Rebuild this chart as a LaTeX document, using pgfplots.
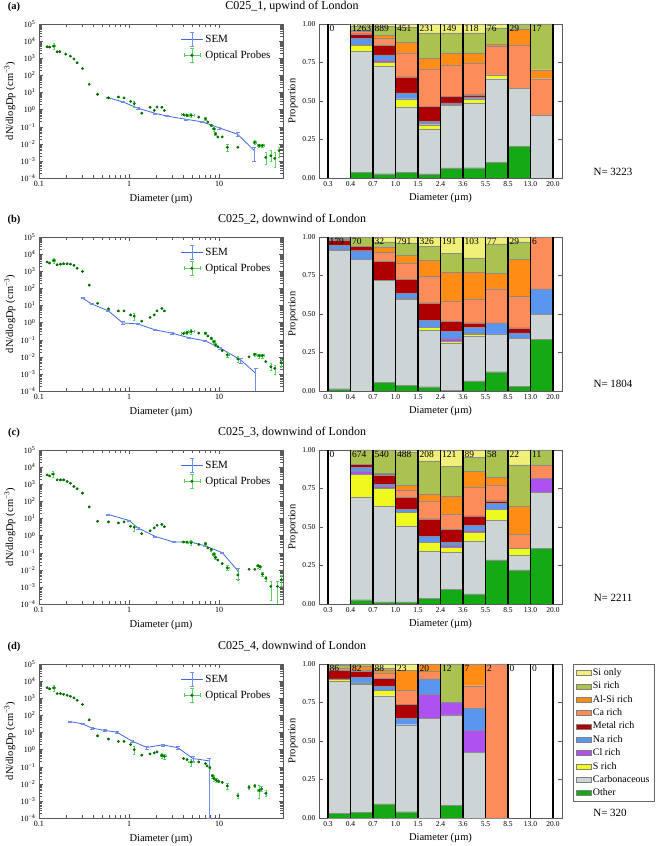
\documentclass[border=0pt]{standalone}
\usepackage{fontspec}
\setmainfont{Liberation Serif}
\usepackage{pgfplots}
\usepackage{pgfplotstable}
\pgfplotsset{compat=1.18}

\definecolor{cSiOnly}{RGB}{240,240,120}
\definecolor{cSiRich}{RGB}{170,195,80}
\definecolor{cAlSi}{RGB}{255,140,20}
\definecolor{cCa}{RGB}{252,140,90}
\definecolor{cMetal}{RGB}{175,0,0}
\definecolor{cNa}{RGB}{90,150,240}
\definecolor{cCl}{RGB}{175,80,240}
\definecolor{cS}{RGB}{238,250,30}
\definecolor{cCarb}{RGB}{205,212,214}
\definecolor{cOther}{RGB}{20,170,20}
\definecolor{semblue}{RGB}{65,105,225}
\definecolor{optdark}{RGB}{0,105,0}
\definecolor{optlight}{RGB}{90,215,90}
\definecolor{framegray}{RGB}{90,90,90}

\newcommand{\semlegend}{\draw[semblue,line width=0.8pt] (0pt,0pt)--(22pt,0pt);
  \draw[semblue!75,line width=0.6pt] (11pt,-7pt)--(11pt,7pt) (9pt,-7pt)--(13pt,-7pt) (9pt,7pt)--(13pt,7pt);}
\newcommand{\optlegend}{\draw[optlight,line width=0.6pt] (3pt,0pt)--(19pt,0pt) (11pt,-7pt)--(11pt,7pt) (9pt,-7pt)--(13pt,-7pt) (9pt,7pt)--(13pt,7pt) (3pt,-2pt)--(3pt,2pt) (19pt,-2pt)--(19pt,2pt);
  \fill[optdark] (11pt,0pt) circle (1.3pt);}
\newcommand{\barlegend}[1]{\draw[#1,draw=black!50] (0pt,-2.5pt) rectangle (15pt,2.5pt);}

\newcommand{\stackbars}[1]{%
\addplot[fill=cOther] table[x=x,y=other]{#1};
\addplot[fill=cCarb] table[x=x,y=carb]{#1};
\addplot[fill=cS] table[x=x,y=s]{#1};
\addplot[fill=cCl] table[x=x,y=cl]{#1};
\addplot[fill=cNa] table[x=x,y=na]{#1};
\addplot[fill=cMetal] table[x=x,y=metal]{#1};
\addplot[fill=cCa] table[x=x,y=ca]{#1};
\addplot[fill=cAlSi] table[x=x,y=alsi]{#1};
\addplot[fill=cSiRich] table[x=x,y=sir]{#1};
\addplot[fill=cSiOnly] table[x=x,y=sio]{#1};
}
\newcommand{\binlines}{\addplot[ycomb, black, line width=1.3pt, mark=none] coordinates {(0,1) (1,1) (2,1) (3,1) (4,1) (5,1) (6,1) (7,1) (8,1) (9,1) (10,1)};}
\newcommand{\cnt}[2]{\node[anchor=north west, inner sep=0.5pt, font=\fontsize{9.5}{10}\selectfont] at (axis cs:#1.04,0.995) {#2};}
\newcommand{\counts}[9]{\cnt{0}{#1}\cnt{1}{#2}\cnt{2}{#3}\cnt{3}{#4}\cnt{4}{#5}\cnt{5}{#6}\cnt{6}{#7}\cnt{7}{#8}\cnt{8}{#9}}

% ---------- data: stacked proportions ----------
\pgfplotstableread{
x other carb s cl na metal ca alsi sir sio
0.5 0 0 0 0 0 0 0 0 0 0
1.5 .035 .787 .040 .005 .040 .030 .015 .008 .025 .015
2.5 .028 .697 .028 .009 .038 .061 .048 .017 .059 .015
3.5 .035 .426 .052 .002 .037 .104 .156 .071 .097 .020
4.5 .026 .292 .028 .007 .013 .099 .243 .069 .165 .058
5.5 .065 .405 .010 .002 .005 .043 .202 .080 .130 .058
6.5 .067 .420 .026 0 .013 .015 .206 .065 .130 .058
7.5 .102 .543 .024 0 0 0 .186 .015 .104 .026
8.5 .206 .378 0 0 0 0 .277 .107 .032 0
9.5 0 .407 0 0 0 0 .238 .058 .297 0
}\barA
\pgfplotstableread{
x other carb s cl na metal ca alsi sir sio
0.5 .015 .899 .006 0 .028 .030 .005 0 .010 .007
1.5 0 .853 0 0 .058 .029 0 0 .060 0
2.5 .058 .659 0 0 0 .125 .061 .030 .035 .032
3.5 .037 .557 .006 0 .033 .091 .108 .047 .082 .039
4.5 .028 .367 .020 0 .045 .112 .173 .104 .091 .060
5.5 .006 .307 .011 .019 .046 .062 .132 .190 .119 .108
6.5 .065 .291 .011 .011 .037 .028 .151 .179 .091 .136
7.5 .125 .246 0 0 .072 0 .220 .099 .193 .045
8.5 .032 .309 0 0 .037 .032 .206 .241 .111 .032
9.5 .335 .162 0 0 .166 0 .337 0 0 0
}\barB
\pgfplotstableread{
x other carb s cl na metal ca alsi sir sio
0.5 0 0 0 0 0 0 0 0 0 0
1.5 .028 .665 .151 .016 .028 .019 0 0 .093 0
2.5 .013 .620 .119 .010 .016 .060 .006 .005 .151 0
3.5 .013 .495 .088 0 .020 .077 .048 .028 .216 .015
4.5 .035 .306 .061 0 .036 .115 .117 .045 .214 .071
5.5 .097 .238 .034 .011 .022 .082 .101 .113 .198 .104
6.5 .065 .345 .057 .010 .033 .062 .186 .102 .092 .048
7.5 .287 .259 .070 0 .038 .016 .103 .050 .177 0
8.5 .222 .093 .048 0 0 0 .091 .183 .266 .097
9.5 .363 .361 0 .092 0 0 .087 0 .097 0
}\barC
\pgfplotstableread{
x other carb s cl na metal ca alsi sir sio
0.5 .032 .855 .016 0 0 .054 .015 0 .018 .010
1.5 .037 .829 .011 0 .036 .039 .005 .026 .017 0
2.5 .091 .703 .033 0 .026 .056 .030 .018 .017 .026
3.5 .041 .565 0 0 .043 .091 .091 .126 0 .043
4.5 0 .649 0 .152 .102 0 .049 .048 0 0
5.5 .084 .585 0 .082 0 0 0 0 .249 0
6.5 0 .426 0 .145 .141 0 .147 .141 0 0
7.5 0 0 0 0 0 0 1 0 0 0
8.5 0 0 0 0 0 0 0 0 0 0
9.5 0 0 0 0 0 0 0 0 0 0
}\barD

% ---------- data: size distributions ----------
\pgfplotstableread{
x y ep em
0.59 4.9 0.3 0.3
0.85 2.8 0.2 0.2
1.25 1.2 0.1 0.1
1.95 0.60 0.05 0.05
2.6 0.42 0.03 0.03
4.3 0.27 0.02 0.02
6.5 0.19 0.015 0.015
10.0 0.085 0.01 0.01
16.0 0.036 0.01 0.008
24.5 0.0040 0.0025 0.003
}\semA
\pgfplotstableread{
x y ep em
0.304 27 2 2
0.384 12.3 1 1
0.589 4.8 0.4 0.4
0.85 0.95 0.25 0.2
1.25 0.83 0.05 0.05
1.95 0.37 0.03 0.03
3.0 0.24 0.02 0.02
4.59 0.13 0.01 0.01
7.0 0.085 0.008 0.008
10.3 0.032 0.004 0.004
17.3 0.0065 0.002 0.0025
25.4 0.00107 0.0011 0.00106
}\semB
\pgfplotstableread{
x y ep em
0.589 17 1 1
1.0 7.6 0.6 0.6
1.25 2.8 0.3 0.3
1.95 0.89 0.06 0.06
3.12 0.42 0.03 0.03
4.8 0.42 0.03 0.03
7.0 0.25 0.02 0.02
10.8 0.10 0.01 0.01
16.1 0.0087 0.004 0.006
}\semC
\pgfplotstableread{
x y ep em
0.22 43 3 3
0.304 32 2 2
0.384 18 2 2
0.54 13 1.5 1.5
0.73 10.5 1 1
1.09 3.0 0.4 0.4
1.57 1.35 0.25 0.25
2.35 1.86 0.3 0.3
3.46 1.3 0.25 0.25
5.1 0.30 0.1 0.08
7.67 0.22 0.1 0.2199
}\semD

\pgfplotstableread{
x y ex ep em
0.123 4700 0 0 0
0.131 4500 0 0 0
0.146 5100 0.006 2300 1700
0.159 2400 0 0 0
0.170 2400 0 0 0
0.198 1740 0 0 0
0.223 1320 0 0 0
0.244 910 0 0 0
0.265 540 0 0 0
0.304 250 0 0 0
0.361 30 0 0 0
0.447 7.8 0 0 0
0.589 4.9 0 0 0
0.760 5.4 0 0 0
0.879 4.8 0 0 0
1.04 3.0 0 0 0
1.14 2.2 0 1.0 0.8
1.38 0.62 0 0 0
1.71 1.35 0 0 0
1.90 0.89 0 0 0
2.04 1.41 0 0 0
2.31 1.35 0 0 0
2.46 0.89 0 0 0
4.03 0.50 0.25 0 0
4.39 0.46 0.3 0.08 0.06
4.87 0.46 0.35 0.12 0.1
5.93 0.36 0 0 0
7.04 0.29 0 0.05 0.05
7.48 0.19 0 0 0
8.15 0.12 0.3 0.02 0.02
8.73 0.074 0.35 0.02 0.02
9.10 0.038 0 0.01 0.008
9.66 0.025 0 0 0
10.8 0.025 0 0 0
12.3 0.0063 0 0.003 0.0025
16.1 0.0063 0 0 0
24.8 0.012 0.8 0.004 0.003
27.7 0.0079 1 0.002 0.002
30.2 0.0079 1 0.002 0.002
32.9 0.0016 0 0.0016 0.001
37.4 0.0020 0 0.002 0.0011
41.4 0.0014 0 0.0019 0.0010
46.2 0.0040 0 0.0023 0.0024
}\optA
\pgfplotstableread{
x y ex ep em
0.123 3450 0 0 0
0.131 3000 0 0 0
0.146 4250 0.006 1800 1300
0.159 2400 0 0 0
0.173 2600 0 0 0
0.188 2750 0 0 0
0.205 2750 0 0 0
0.223 2600 0 0 0
0.244 2200 0 0 0
0.265 1500 0 0 0
0.304 970 0 0 0
0.361 155 0 0 0
0.447 13.5 0 0 0
0.589 6.3 0 0 0
0.760 4.8 0 0 0
0.879 4.8 0 0 0
1.04 2.8 0 0 0
1.14 2.4 0 1.2 1.0
1.38 1.2 0 0 0
1.71 2.0 0 0 0
1.90 2.8 0 0 0
2.04 4.8 0 0 0
2.31 6.6 0 0 0
2.46 4.8 0 0 0
4.03 0.23 0.25 0 0
4.39 0.26 0.3 0.05 0.04
4.87 0.30 0.35 0.12 0.09
5.93 0.24 0 0 0
7.04 0.24 0 0.04 0.04
7.48 0.165 0 0 0
8.15 0.12 0.3 0.02 0.02
8.73 0.077 0.35 0.015 0.015
9.10 0.049 0 0.01 0.01
9.66 0.039 0 0 0
10.8 0.023 0 0 0
12.3 0.013 0.5 0.005 0.004
16.1 0.0074 0 0.003 0.0025
21.4 0.010 0 0 0
24.8 0.0138 0.8 0.003 0.003
27.7 0.0117 1 0.003 0.003
30.2 0.0117 1 0.003 0.003
32.9 0.0052 0 0 0
37.4 0.0026 0 0.0015 0.001
41.4 0.0021 0 0.0012 0.0011
48.5 0.0046 0 0.003 0.002
}\optB
\pgfplotstableread{
x y ex ep em
0.123 3500 0 0 0
0.131 3100 0 0 0
0.143 3900 0.006 1800 1300
0.159 1800 0 0 0
0.173 1800 0 0 0
0.188 1800 0 0 0
0.205 1450 0 0 0
0.223 1150 0 0 0
0.244 740 0 0 0
0.265 550 0 0 0
0.304 300 0 0 0
0.361 47 0 0 0
0.447 6.9 0 0 0
0.589 6.3 0 0 0
0.760 5.5 0 0 0
0.879 6.3 0 0 0
1.04 3.5 0 0 0
1.14 3.1 0 1.5 1.2
1.38 1.3 0 0 0
1.71 1.9 0 0 0
1.90 2.8 0 0 0
2.04 4.0 0 0 0
2.31 4.4 0 0 0
2.46 3.3 0 0 0
4.03 0.42 0.25 0 0
4.39 0.42 0.3 0.08 0.06
4.87 0.38 0.35 0.15 0.11
5.93 0.30 0 0 0
7.04 0.33 0 0.06 0.05
7.48 0.19 0 0 0
8.15 0.155 0.3 0.03 0.03
8.73 0.080 0.35 0.02 0.02
9.10 0.051 0 0.01 0.01
9.66 0.037 0 0 0
10.8 0.023 0 0 0
12.3 0.013 0.5 0.005 0.004
16.1 0.0050 0 0.003 0.0025
21.4 0.0107 0 0 0
24.8 0.0107 0 0 0
27.0 0.017 1 0.004 0.004
28.5 0.015 1 0.004 0.004
30.2 0.0055 0 0.002 0.0015
32.9 0.0032 0 0.001 0.001
37.4 0.00107 0 0.001 0.0009
44.4 0.00107 0 0.001 0.00106
49 0.0026 0 0.002 0.0015
}\optC
\pgfplotstableread{
x y ex ep em
0.123 4150 0 0 0
0.131 3600 0 0 0
0.146 4000 0.006 1800 1300
0.159 1860 0 0 0
0.173 1860 0 0 0
0.188 1700 0 0 0
0.205 1480 0 0 0
0.223 1300 0 0 0
0.244 1050 0 0 0
0.265 770 0 0 0
0.304 430 0 0 0
0.361 54 0 0 0
0.447 6.4 0 0 0
0.589 4.1 0 0 0
0.760 3.0 0 0 0
0.879 3.0 0 0 0
1.04 1.95 0 0 0
1.14 1.0 0 0.6 0.45
1.38 0.47 0 0 0
1.71 0.56 0 0 0
1.90 0.64 0 0 0
2.04 0.74 0 0 0
2.31 0.45 0.12 0.15 0.12
2.46 0.41 0.12 0.15 0.12
4.03 0.30 0 0 0
4.39 0.26 0 0 0
4.87 0.19 0.35 0.1 0.08
5.93 0.19 0 0 0
7.04 0.15 0 0 0
7.35 0.11 0 0 0
7.86 0.087 0 0.02 0.02
8.4 0.029 0.3 0.008 0.008
8.76 0.020 0 0.005 0.005
9.3 0.016 0.35 0.004 0.004
9.9 0.0135 0 0 0
10.8 0.012 0 0 0
12.3 0.0076 0 0.003 0.0025
16.1 0.0020 0 0.0008 0.0006
21.4 0.0062 0 0.002 0.0015
24.8 0.0076 0 0.002 0.0015
27.7 0.0040 1 0.004 0.0025
29.5 0.0050 0 0.002 0.0015
32.9 0.0028 0 0.0015 0.001
}\optD

\newcommand{\sizepanel}[3]{%
\begin{axis}[scale only axis, width=244pt, height=154pt, anchor=south west, at={(39pt,#1)},
    xmode=log, ymode=log, xmin=0.1, xmax=51, ymin=1e-4, ymax=1e5,
    xtick={0.1,1,10}, xticklabels={0.1,1,10},
    ytick={1e-4,1e-3,1e-2,1e-1,1,10,100,1000,10000,100000},
    yticklabels={10\textsuperscript{−4},10\textsuperscript{−3},10\textsuperscript{−2},10\textsuperscript{−1},10\textsuperscript{0},10\textsuperscript{1},10\textsuperscript{2},10\textsuperscript{3},10\textsuperscript{4},10\textsuperscript{5}},
    axis line style={framegray, line width=0.6pt}, tick style={framegray},
    tick label style={font=\fontsize{8}{9}\selectfont},
    xlabel={Diameter (µm)}, ylabel={dN/dlogDp (cm\textsuperscript{−3})},
    label style={font=\fontsize{10.5}{12}\selectfont},
    xlabel style={at={(axis description cs:0.5,-0.136)},anchor=center},
    ylabel style={at={(axis description cs:-0.119,0.5)},anchor=center},
    legend style={at={(0.97,0.96)}, anchor=north east, draw=none, fill=none,
      font=\fontsize{11}{13}\selectfont, row sep=1pt, cells={anchor=west}}]
\addplot[semblue, line width=0.8pt, mark=none,
    error bars/y dir=both, error bars/y explicit,
    error bars/error bar style={color=semblue!75, line width=0.6pt},
    legend image code/.code={\semlegend}]
  table[x=x,y=y,y error plus=ep,y error minus=em]{#2};
\addlegendentry{SEM}
\addplot[only marks, mark=*, mark size=1.2pt, color=optdark,
    mark options={fill=optdark, draw=optdark},
    error bars/x dir=both, error bars/x explicit, error bars/y dir=both, error bars/y explicit,
    error bars/error bar style={color=optlight, line width=0.6pt},
    legend image code/.code={\optlegend}]
  table[x=x,y=y,x error=ex,y error plus=ep,y error minus=em]{#3};
\addlegendentry{Optical Probes}
\end{axis}}

\pgfplotsset{
  barplot/.style={
    scale only axis, width=243pt, height=154pt, anchor=south west,
    xmin=-0.4, xmax=10.4, ymin=0, ymax=1,
    xtick={0,1,2,3,4,5,6,7,8,9,10},
    xticklabels={0.3,0.4,0.7,1.0,1.5,2.4,3.6,5.5,8.5,13.0,20.0},
    ytick={0,0.25,0.5,0.75,1}, yticklabels={0.00,0.25,0.50,0.75,1.00},
    axis line style={framegray, line width=0.6pt}, tick style={framegray},
    tick label style={font=\fontsize{7.5}{9}\selectfont},
    xlabel={Diameter (µm)}, ylabel={Proportion},
    label style={font=\fontsize{10.5}{12}\selectfont},
    xlabel style={at={(axis description cs:0.5,-0.13)},anchor=center},
    ylabel style={at={(axis description cs:-0.107,0.5)},anchor=center},
    ybar stacked, bar width=1,
    every axis plot/.append style={draw=black!45, line width=0.3pt},
    legend image code/.code={\barlegend{##1}},
  },
  overplot/.style={
    scale only axis, width=243pt, height=154pt, anchor=south west,
    xmin=-0.4, xmax=10.4, ymin=0, ymax=1, hide axis, clip=false,
  },
}

\begin{document}
\begin{tikzpicture}
\useasboundingbox (0pt,0pt) rectangle (661pt,846pt);
\tikzset{ttl/.style={font=\fontsize{12}{14}\selectfont}, plab/.style={font=\fontsize{10.5}{12}\selectfont\bfseries}, nlab/.style={font=\fontsize{11}{13}\selectfont}}

% row a
\node[plab] at (14pt,839.5pt) {(a)};
\node[ttl] at (292pt,839.5pt) {C025\_1, upwind of London};
\sizepanel{668pt}{\semA}{\optA}
\begin{axis}[barplot, at={(319pt,668pt)}]
\stackbars{\barA}
\end{axis}
\begin{axis}[overplot, at={(319pt,668pt)}]
\binlines
\counts{0}{1263}{889}{451}{231}{149}{118}{76}{29}
\cnt{9}{17}
\end{axis}
\node[nlab] at (613pt,674pt) {N= 3223};

% row b
\node[plab] at (14pt,626.5pt) {(b)};
\node[ttl] at (292pt,626.5pt) {C025\_2, downwind of London};
\sizepanel{455pt}{\semB}{\optB}
\begin{axis}[barplot, at={(319pt,455pt)}]
\stackbars{\barB}
\end{axis}
\begin{axis}[overplot, at={(319pt,455pt)}]
\binlines
\counts{179}{70}{32}{791}{326}{191}{103}{77}{29}
\cnt{9}{6}
\end{axis}
\node[nlab] at (613pt,462pt) {N= 1804};

% row c
\node[plab] at (14pt,413.5pt) {(c)};
\node[ttl] at (292pt,413.5pt) {C025\_3, downwind of London};
\sizepanel{242pt}{\semC}{\optC}
\begin{axis}[barplot, at={(319pt,242pt)}]
\stackbars{\barC}
\end{axis}
\begin{axis}[overplot, at={(319pt,242pt)}]
\binlines
\counts{0}{674}{540}{488}{208}{121}{89}{58}{22}
\cnt{9}{11}
\end{axis}
\node[nlab] at (613pt,248pt) {N= 2211};

% row d
\node[plab] at (14pt,199.5pt) {(d)};
\node[ttl] at (292pt,199.5pt) {C025\_4, downwind of London};
\sizepanel{28pt}{\semD}{\optD}
\begin{axis}[barplot, at={(319pt,28pt)}, reverse legend,
  legend entries={Other,Carbonaceous,S rich,Cl rich,Na rich,Metal rich,Ca rich,Al-Si rich,Si rich,Si only},
  legend style={at={(1.045,1.0)}, anchor=north west, draw=black!60, fill=white,
    font=\fontsize{10}{11}\selectfont, cells={anchor=west}, row sep=0.9pt, inner sep=2.5pt}]
\stackbars{\barD}
\end{axis}
\begin{axis}[overplot, at={(319pt,28pt)}]
\binlines
\counts{86}{82}{88}{23}{20}{12}{7}{2}{0}
\cnt{9}{0}
\end{axis}
\node[nlab] at (610pt,33pt) {N= 320};
\end{tikzpicture}
\end{document}
